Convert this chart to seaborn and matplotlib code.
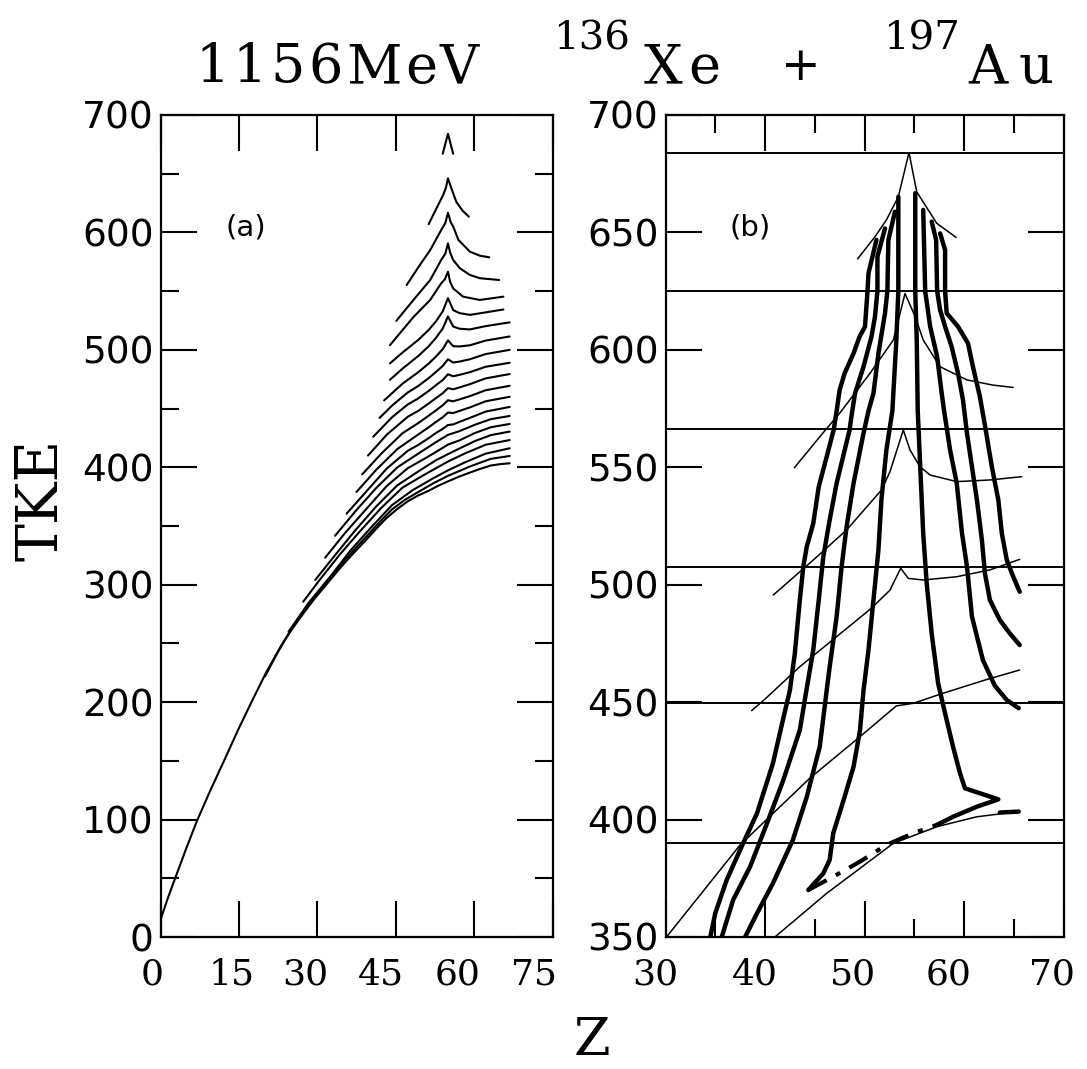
import matplotlib
matplotlib.use("Agg")
import matplotlib.pyplot as plt
from matplotlib.ticker import FixedLocator, NullFormatter
from matplotlib.transforms import ScaledTranslation
import pandas as pd
import seaborn as sns

# ---------------- panel (a): TKE vs Z families ----------------
a01_z = [54.0, 55.0, 56.0]
a01_t = [667, 684, 667]
a02_z = [51.3, 52.8, 54.1, 54.6, 55.0, 55.7, 56.6, 57.8, 59.0]
a02_t = [607, 620.5, 632, 638, 646, 637, 626, 618.5, 613.4]
a03_z = [47.1, 49.4, 51.6, 53.7, 54.5, 55.0, 55.5, 56.0, 57.0, 59.2, 61.1, 62.9]
a03_t = [555.2, 570.8, 585, 602, 608, 616.8, 609, 604.9, 593.6, 583.6, 580.2, 578.8]
a04_z = [45.1, 48.4, 51.6, 53.7, 54.5, 55.0, 55.4, 56.0, 57.3, 59.2, 61.1, 64.8]
a04_t = [524.6, 542.5, 559.5, 576.5, 582, 590.7, 583, 576.5, 569.4, 563.8, 561, 559.5]
a05_z = [43.9, 48.4, 51.6, 53.7, 54.4, 55.0, 55.4, 56.0, 57.9, 61.1, 65.6]
a05_t = [504, 528, 542.5, 556.7, 560, 566.6, 558, 552.3, 545.3, 542.5, 545.3]
a06_z = [43.9, 46.3, 49.3, 51.3, 52.7, 54.0, 55.0, 56.0, 57.2, 59.2, 62.2, 65.6]
a06_t = [488.5, 497.7, 508.4, 516.9, 524.2, 532.8, 544, 533.9, 531.3, 529.8, 531.9, 534.4]
a07_z = [43.9, 46.3, 49.3, 51.3, 52.7, 54.0, 55.0, 56.0, 57.2, 59.2, 62.2, 66.8]
a07_t = [474.5, 484, 494.7, 503, 510.2, 518.2, 528.5, 519.9, 518, 517.4, 520.2, 523.4]
a08_z = [42.8, 46.3, 49.3, 51.3, 52.7, 54.0, 55.0, 56.0, 57.2, 59.2, 62.2, 66.8]
a08_t = [457, 471.2, 480.9, 488.3, 494.3, 500.6, 508.1, 503.1, 502.9, 503.9, 507.9, 511.4]
a09_z = [41.9, 44.3, 47.3, 49.3, 51.3, 52.7, 54.0, 55.0, 56.0, 57.2, 59.2, 62.2, 66.8]
a09_t = [442, 452.5, 463.7, 469.2, 475.9, 481.2, 486.3, 492, 489.2, 490, 492, 496.4, 500]
a10_z = [40.7, 44.3, 47.3, 49.3, 51.3, 52.7, 54.0, 55.0, 56.0, 57.2, 59.2, 62.2, 66.8]
a10_t = [426, 442.6, 453.5, 458.6, 465, 469.9, 474.3, 479.2, 477.5, 478.7, 481, 485.6, 489]
a11_z = [39.7, 43.3, 47.3, 49.3, 51.3, 52.7, 54.0, 55.0, 56.0, 57.2, 59.2, 62.2, 66.8]
a11_t = [410, 427.8, 443, 448, 454.3, 458.9, 463.1, 467.4, 466.4, 468, 470.8, 475.7, 479.4]
a12_z = [38.6, 42.3, 46.3, 49.3, 51.3, 52.7, 54.0, 55.0, 56.0, 57.2, 59.2, 62.2, 66.8]
a12_t = [394, 411.9, 429, 437.6, 443.9, 448.5, 452.8, 457.1, 456.2, 457.8, 460.6, 465.6, 469.4]
a13_z = [37.5, 41.3, 45.3, 49.3, 51.3, 52.7, 54.0, 55.0, 56.0, 57.2, 59.2, 62.2, 66.8]
a13_t = [379, 398, 415.5, 427.9, 434, 438.6, 442.6, 446.6, 446.2, 448, 451, 456.2, 460]
a14_z = [35.6, 39.3, 43.3, 47.3, 49.3, 51.3, 52.7, 54.0, 55.0, 56.0, 57.2, 59.2, 62.2, 66.8]
a14_t = [360.5, 379, 399, 414, 419, 424.8, 429.2, 432.7, 436, 436.5, 438.7, 442.1, 447.4, 451.4]
a15_z = [33.4, 37.3, 41.3, 45.3, 49.3, 52.7, 55.0, 57.2, 60.2, 63.2, 66.8]
a15_t = [341.7, 362.6, 382.5, 399.9, 411.6, 421.4, 427.6, 430.8, 436.3, 441, 443.7]
a16_z = [31.5, 35.3, 39.3, 43.3, 47.3, 51.3, 55.0, 57.2, 60.2, 63.2, 66.8]
a16_t = [323, 344, 364.1, 384.1, 399.2, 409.3, 419.3, 422.9, 429.3, 434.1, 436.9]
a17_z = [29.6, 33.4, 37.3, 41.3, 45.3, 49.3, 52.7, 55.0, 57.2, 60.2, 63.2, 66.8]
a17_t = [304, 325.2, 346.5, 366.8, 384.6, 396.4, 406, 411.2, 416, 422.4, 427.4, 430.4]
a18_z = [27.3, 30.4, 34.3, 38.3, 42.3, 46.3, 50.3, 55.0, 58.2, 62.2, 66.8]
a18_t = [285.5, 303.8, 325.7, 346.2, 365.7, 382.7, 393.2, 404.9, 411.7, 419.2, 423.2]
a19_z = [24.5, 28.4, 32.4, 36.3, 40.3, 44.3, 48.3, 52.2, 55.0, 58.2, 62.2, 66.8]
a19_t = [260, 284.9, 306.4, 328.9, 348.8, 367.8, 380.7, 390.7, 397.4, 404.1, 411.6, 416.2]
a20_z = [20.0, 22.2, 24.4, 26.9, 29.4, 31.8, 34.3, 36.8, 39.3, 41.8, 44.3, 46.8, 49.3, 52.2,
         55.0, 59.2, 63.2, 66.8]
a20_t = [222, 240.5, 257.6, 274.3, 289.2, 303, 315.9, 328.6, 340.6, 352.8, 364.2, 372.4, 378.9,
         386.4, 392.7, 400.7, 407.2, 409.6]
a21_z = [0.1, 1.4, 2.8, 4.8, 6.9, 9.5, 12.1, 14.7, 17.4, 20.3, 23.2, 25.3, 27.4, 29.5, 31.7,
         33.5, 35.3, 37.3, 39.3, 41.3, 43.3, 45.3, 47.3, 49.3, 51.3, 53.1, 55.0, 57.1, 59.2,
         61.2, 63.2, 65.0, 66.8]
a21_t = [16, 33, 50, 74, 98, 124.5, 149.5, 175, 200, 226, 249, 263, 276, 288.3, 300,
         309.6, 319, 328.6, 338, 347.8, 357, 364.5, 371, 376, 380, 384.2, 388, 392, 395.5,
         398.7, 401.5, 402.7, 403.4]

# ---------------- panel (b): thin family curves ----------------
b_thin1_z = [49.3, 51.06, 52.2, 53.4, 54.47, 55.25, 57.26, 59.2]
b_thin1_t = [638.7, 648.2, 655.3, 665.2, 684, 667.3, 653.9, 647.9]
b_thin2_z = [42.95, 45.9, 47.5, 50.55, 52.9, 54.07, 55.1, 55.9, 57.6, 60.3, 62.9, 64.95]
b_thin2_t = [549.8, 565, 573, 590, 604.2, 624, 614.1, 604.2, 592.8, 587.2, 585, 584]
b_thin3_z = [40.83, 44.85, 48.2, 51.7, 52.56, 53.9, 54.57, 55.58, 56.6, 59.27, 62.6, 65.8]
b_thin3_t = [495.6, 510.5, 523.3, 540.3, 548.1, 565.9, 557.4, 550.2, 546.7, 543.9, 544.6, 546]
b_thin4_z = [38.66, 40.0, 43.5, 47.2, 50.7, 52.56, 53.64, 54.4, 55.9, 59.27, 62.6, 65.6]
b_thin4_t = [446.4, 451.3, 465.1, 477.9, 490, 497.7, 507, 502.7, 502, 503.4, 506.3, 510.8]
b_thin5_z = [30.1, 37.5, 44.5, 49.55, 53.2, 54.9, 57.9, 62.1, 65.6]
b_thin5_t = [350, 389.2, 417.6, 435.3, 448.4, 449.5, 453.8, 459.4, 463.7]
b_thin6_z = [41.0, 46.2, 52.9, 57.3, 61.3, 65.5]
b_thin6_t = [350, 368.6, 389.9, 397, 401.2, 403.4]

# ---------------- panel (b): thick trajectories ----------------
b_L1_z = [51.2, 50.4, 50.3, 50.05, 49.5, 48.9, 48.0, 47.5, 47.2, 46.9, 46.2, 45.4, 44.85,
          44.2, 43.85, 43.5, 43.0, 42.5, 41.8, 40.8, 39.2, 37.8, 36.15, 35.0, 34.5]
b_L1_t = [646.8, 632.6, 625, 609.9, 605.6, 598.5, 590, 582.9, 574, 565.9, 554.5, 541.7, 526.1,
          516.2, 507.7, 493.5, 470.8, 455, 442.4, 424, 402.7, 389.9, 374.3, 360.1, 350]
b_L2_z = [52.06, 51.3, 51.3, 51.05, 50.7, 49.9, 49.05, 48.7, 48.5, 47.2, 46.5, 45.86, 45.4,
          44.85, 44.2, 43.5, 41.84, 40.2, 38.5, 36.8, 35.65]
b_L2_t = [651.7, 639.7, 625, 614.1, 605.6, 592.8, 581.5, 572, 565.9, 543.2, 527.6, 511.9, 493.5,
          472.2, 456, 438.1, 416.8, 398.4, 379.9, 365.8, 350]
b_L3_z = [53.06, 52.4, 52.3, 52.06, 51.4, 50.9, 50.4, 49.9, 48.9, 48.2, 47.7, 47.2, 46.5,
          46.2, 45.5, 44.2, 42.8, 40.8, 39.2, 38.0]
b_L3_t = [658.8, 646.8, 625, 615.6, 598.5, 581.5, 574, 564.5, 543.2, 524.7, 507.7, 486.4, 465.1,
          455, 431, 409.7, 391.3, 372.9, 360.1, 350]
b_L4_z = [53.4, 53.4, 53.2, 52.8, 52.2, 51.7, 51.4, 50.9, 50.4, 49.9, 49.55, 48.9, 47.9,
          46.86, 46.5, 45.86, 44.35]
b_L4_t = [665.2, 625, 604.2, 574, 557.4, 536.1, 514.8, 493.5, 472.2, 455, 438.1, 422.5, 408.3,
          394.2, 382.8, 377.1, 370]
b_R1_z = [55.1, 55.1, 55.25, 55.35, 55.6, 55.9, 56.25, 56.75, 57.4, 58.1, 58.9, 59.6, 60.1,
          61.6, 63.45, 61.3, 58.9, 57.26]
b_R1_t = [666.7, 625, 604.2, 574, 550.2, 521.9, 500.6, 479.3, 458, 445.2, 431, 419.7, 413.3,
          411.2, 408.6, 405.5, 401.2, 397.7]
b_R2_z = [55.9, 56.1, 56.6, 57.3, 57.76, 58.0, 58.6, 59.27, 59.8, 60.3, 60.8, 61.9, 63.1, 64.3, 65.5]
b_R2_t = [659.6, 625, 609.9, 597.1, 581.5, 574, 557.4, 543.2, 521.9, 507.7, 486.4, 467.9, 457,
          450.9, 447.4]
b_R3_z = [56.75, 57.2, 57.3, 57.6, 58.1, 58.76, 59.4, 59.9, 60.3, 60.8, 61.3, 61.8, 62.1, 62.6,
          63.6, 64.6, 65.6]
b_R3_t = [654.6, 646.8, 625, 617, 609.9, 601.3, 590, 578.6, 564.5, 550.2, 536.1, 519, 504.9,
          493.5, 485, 479.3, 474.3]
b_R4_z = [57.6, 58.1, 58.1, 58.26, 59.4, 60.4, 60.9, 61.6, 62.1, 62.8, 63.45, 63.8, 64.3, 64.95, 65.6]
b_R4_t = [649.6, 642.5, 625, 615.6, 609.9, 602.8, 592.8, 580, 568, 550.2, 536.1, 521.9, 510.5,
          503.4, 497]
b_stub_z = [63.6, 65.5]
b_stub_t = [403.0, 403.4]
b_dashdot_z = [44.35, 46.86, 49.55, 52.2, 54.9, 57.26]
b_dashdot_t = [370, 375.7, 382.1, 389.2, 394.2, 397.7]

b_levels = [684, 625, 566.5, 507.7, 449.5, 390]

# ---------------- axis settings ----------------
a_xticks = [0, 15, 30, 45, 60, 75]
a_yticks = [0, 100, 200, 300, 400, 500, 600, 700]
a_yminor = [50, 150, 250, 350, 450, 550, 650]
b_xticks = [30, 40, 50, 60, 70]
b_xminor = [35, 45, 55, 65]
b_yticks = [350, 400, 450, 500, 550, 600, 650, 700]

# ---------------- styling ----------------
sns.set_theme(style="white")
plt.rcParams["font.family"] = ["DejaVu Serif", "DejaVu Sans"]
plt.rcParams["axes.linewidth"] = 1.5
for key in ("text.color", "axes.labelcolor", "xtick.color", "ytick.color", "axes.edgecolor"):
    plt.rcParams[key] = "black"

W, H = 1087, 1069
fig = plt.figure(figsize=(W / 100, H / 100), dpi=100)
fig.patch.set_facecolor("white")

ax_a = fig.add_axes([160.5 / W, 132 / H, 392 / W, 822 / H])
ax_b = fig.add_axes([665.5 / W, 132 / H, 398 / W, 822 / H])


def draw_group(ax, pairs, lw, **kw):
    frames = [pd.DataFrame({"Z": z, "TKE": t, "curve": i}) for i, (z, t) in enumerate(pairs)]
    df = pd.concat(frames, ignore_index=True)
    sns.lineplot(data=df, x="Z", y="TKE", units="curve", estimator=None, sort=False,
                 color="black", linewidth=lw, ax=ax, legend=False,
                 solid_capstyle="round", solid_joinstyle="round", **kw)


family_a = [(a01_z, a01_t), (a02_z, a02_t), (a03_z, a03_t), (a04_z, a04_t), (a05_z, a05_t),
            (a06_z, a06_t), (a07_z, a07_t), (a08_z, a08_t), (a09_z, a09_t), (a10_z, a10_t),
            (a11_z, a11_t), (a12_z, a12_t), (a13_z, a13_t), (a14_z, a14_t), (a15_z, a15_t),
            (a16_z, a16_t), (a17_z, a17_t), (a18_z, a18_t), (a19_z, a19_t), (a20_z, a20_t),
            (a21_z, a21_t)]
draw_group(ax_a, family_a, 1.5)

thin_b = [(b_thin1_z, b_thin1_t), (b_thin2_z, b_thin2_t), (b_thin3_z, b_thin3_t),
          (b_thin4_z, b_thin4_t), (b_thin5_z, b_thin5_t), (b_thin6_z, b_thin6_t)]
draw_group(ax_b, thin_b, 1.1)

thick_b = [(b_L1_z, b_L1_t), (b_L2_z, b_L2_t), (b_L3_z, b_L3_t), (b_L4_z, b_L4_t),
           (b_R1_z, b_R1_t), (b_R2_z, b_R2_t), (b_R3_z, b_R3_t), (b_R4_z, b_R4_t),
           (b_stub_z, b_stub_t)]
draw_group(ax_b, thick_b, 3.2)

sns.lineplot(x=b_dashdot_z, y=b_dashdot_t, sort=False, estimator=None, color="black",
             linewidth=3.0, linestyle=(0, (5, 2.5, 1.2, 2.5)), ax=ax_b, legend=False)

for lvl in b_levels:
    ax_b.axhline(lvl, color="black", linewidth=1.4)

# ---------------- axes ----------------
ax_a.set_xlim(0, 75)
ax_a.set_ylim(0, 700)
ax_b.set_xlim(30, 70)
ax_b.set_ylim(350, 700)

for ax in (ax_a, ax_b):
    ax.set_xlabel("")
    ax.set_ylabel("")
    ax.set_facecolor("white")
    ax.grid(False)
    for s in ax.spines.values():
        s.set_visible(True)
        s.set_color("black")
        s.set_linewidth(1.6)

ax_a.xaxis.set_major_locator(FixedLocator(a_xticks))
ax_a.yaxis.set_major_locator(FixedLocator(a_yticks))
ax_a.yaxis.set_minor_locator(FixedLocator(a_yminor))
ax_a.set_xticklabels([str(v) for v in a_xticks])
ax_a.set_yticklabels([str(v) for v in a_yticks])

ax_b.xaxis.set_major_locator(FixedLocator(b_xticks))
ax_b.xaxis.set_minor_locator(FixedLocator(b_xminor))
ax_b.yaxis.set_major_locator(FixedLocator(b_yticks))
ax_b.set_xticklabels([str(v) for v in b_xticks])
ax_b.set_yticklabels([str(v) for v in b_yticks])
ax_b.xaxis.set_minor_formatter(NullFormatter())

for ax in (ax_a, ax_b):
    ax.tick_params(which="major", direction="in", length=26, width=1.5,
                   top=True, right=True, bottom=True, left=True, colors="black")
    ax.tick_params(which="minor", direction="in", length=13, width=1.5,
                   top=True, right=True, bottom=True, left=True, colors="black")
    ax.tick_params(axis="x", which="major", pad=15)
    ax.tick_params(axis="y", which="major", pad=5)

# the printed x labels drift slightly left of their tick marks
a_label_shift = [-8, -7, -12, -15, -17, -18]
b_label_shift = [-10, -10, -12, -15, -12]
for ax, shifts in ((ax_a, a_label_shift), (ax_b, b_label_shift)):
    for lab, dx in zip(ax.get_xticklabels(), shifts):
        lab.set_fontfamily("DejaVu Serif")
        lab.set_fontsize(26)
        lab.set_color("black")
        lab.set_transform(lab.get_transform() + ScaledTranslation(dx / 100, 0, fig.dpi_scale_trans))
    for lab in ax.get_yticklabels():
        lab.set_fontfamily("DejaVu Sans")
        lab.set_fontsize(27)
        lab.set_color("black")

ax_a.text(16.4, 604.6, "(a)", fontsize=21, family="DejaVu Sans", ha="center", va="center",
          color="black")
ax_b.text(38.5, 652.3, "(b)", fontsize=21, family="DejaVu Sans", ha="center", va="center",
          color="black")

# ---------------- title (plotter lettering with even spacing) ----------------
def glyph(xc, y, s, size):
    fig.text(xc / W, 1 - y / H, s, fontsize=size, family="DejaVu Serif",
             va="baseline", ha="center", color="black")


title_chars = ["1", "1", "5", "6", "M", "e", "V"]
title_x = [213, 250, 288, 326, 374, 421, 459]
for ch, xc in zip(title_chars, title_x):
    glyph(xc, 83, ch, 39)
glyph(592, 50, "136", 29)
glyph(663, 83, "X", 39)
glyph(704, 83, "e", 39)
glyph(801, 80, "+", 34)
glyph(922, 50, "197", 29)
glyph(988, 83, "A", 39)
glyph(1036, 83, "u", 39)

fig.text(41 / W, 1 - 500 / H, "TKE", fontsize=41, family="DejaVu Serif",
         rotation=90, ha="center", va="center", color="black")
fig.text(592 / W, 1 - 1055 / H, "Z", fontsize=38, family="DejaVu Serif",
         ha="center", va="baseline", color="black")

fig.savefig("out.png", dpi=100, facecolor="white")
